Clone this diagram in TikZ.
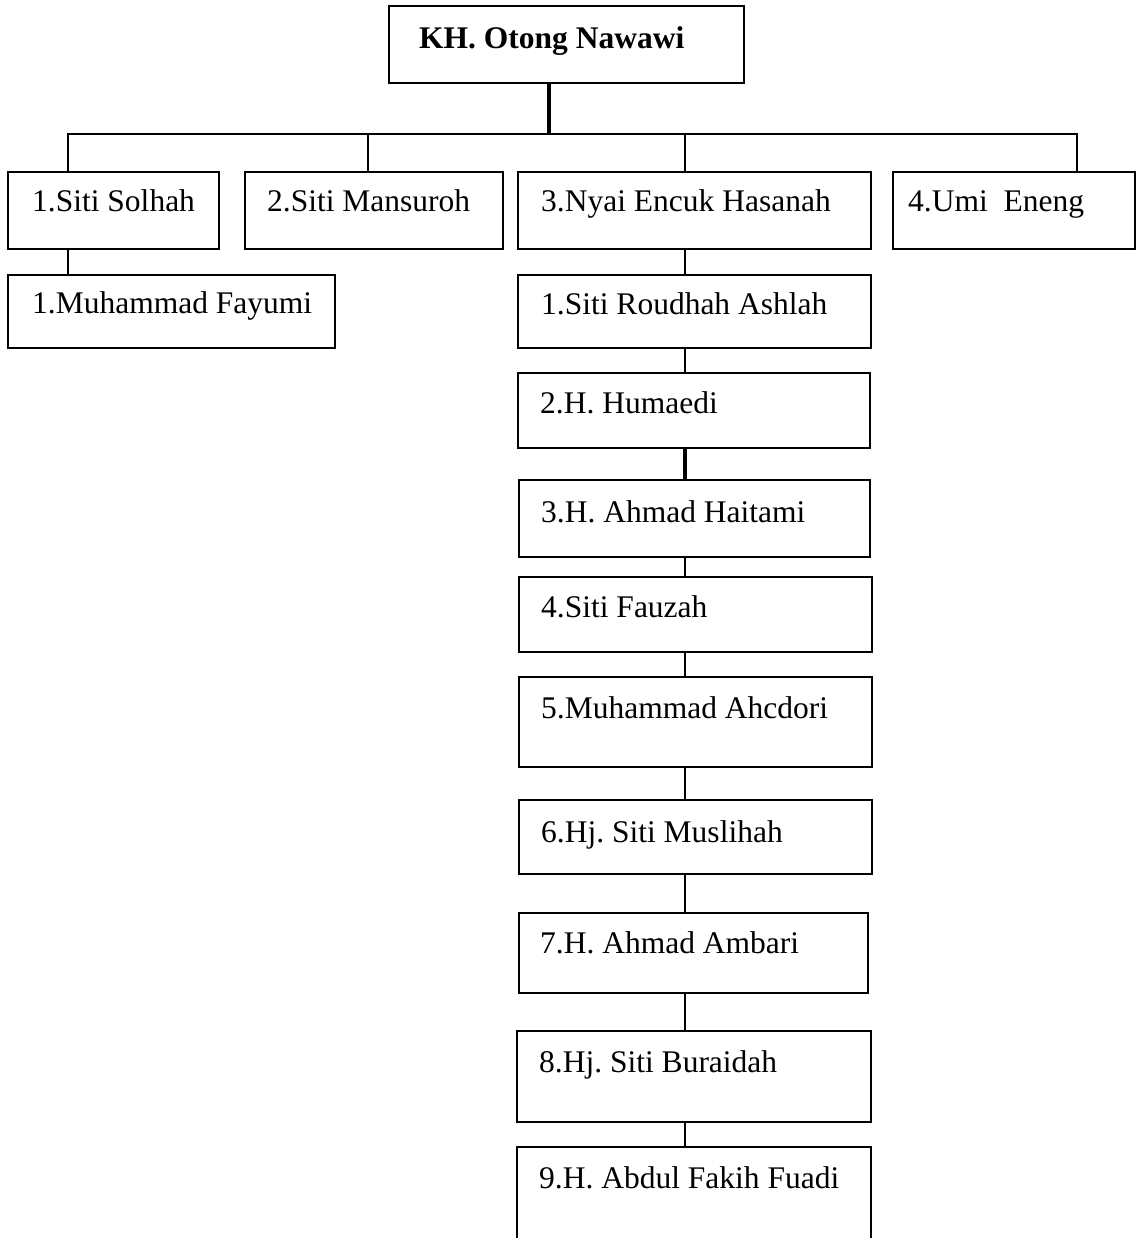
\documentclass[tikz,border=0pt]{standalone}
\usepackage{fontspec}
\setmainfont{Liberation Serif}
\frenchspacing
\begin{document}
\begin{tikzpicture}[x=1pt,y=-1pt,
  box/.style={draw, line width=2.5pt, inner sep=0pt, outer sep=0pt, rectangle},
  txt/.style={anchor=base west, inner sep=0pt, font=\fontsize{31.5}{36}\selectfont},
  link/.style={line width=2.4pt},
  thicklink/.style={line width=3.8pt}]
\useasboundingbox[fill=white] (0,0) rectangle (1137,1238);

% boxes
\node[box, minimum width=355pt, minimum height=77pt] (top) at (566.5,44.5) {};
\node[box, minimum width=211pt, minimum height=77pt] (b1) at (113.5,210.5) {};
\node[box, minimum width=258pt, minimum height=77pt] (b2) at (374,210.5) {};
\node[box, minimum width=353pt, minimum height=77pt] (b3) at (694.5,210.5) {};
\node[box, minimum width=242pt, minimum height=77pt] (b4) at (1014,210.5) {};
\node[box, minimum width=327pt, minimum height=73pt] (f1) at (171.5,311.5) {};
\node[box, minimum width=353pt, minimum height=73pt] (c1) at (694.5,311.5) {};
\node[box, minimum width=352pt, minimum height=75pt] (c2) at (694,410.5) {};
\node[box, minimum width=351pt, minimum height=77pt] (c3) at (694.5,518.5) {};
\node[box, minimum width=353pt, minimum height=75pt] (c4) at (695.5,614.5) {};
\node[box, minimum width=353pt, minimum height=90pt] (c5) at (695.5,722) {};
\node[box, minimum width=353pt, minimum height=74pt] (c6) at (695.5,837) {};
\node[box, minimum width=349pt, minimum height=80pt] (c7) at (693.5,953) {};
\node[box, minimum width=354pt, minimum height=91pt] (c8) at (694,1076.5) {};
\node[box, minimum width=354pt, minimum height=153pt] (c9) at (694,1223.5) {};

% texts
\node[txt, font=\fontsize{31.5}{36}\selectfont\bfseries] (ttop) at (419,49) {KH. Otong Nawawi};
\node[txt] (tb1) at (32,212) {1.Siti Solhah};
\node[txt] (tb2) at (267,212) {2.Siti Mansuroh};
\node[txt] (tb3) at (541,212) {3.Nyai Encuk Hasanah};
\node[txt] (tb4) at (908,212) {4.Umi\ \ Eneng};
\node[txt] (tf1) at (32,313) {1.Muhammad Fayumi};
\node[txt] (tc1) at (541,314) {1.Siti Roudhah Ashlah};
\node[txt] (tc2) at (540,413) {2.H. Humaedi};
\node[txt] (tc3) at (541,522) {3.H. Ahmad Haitami};
\node[txt] (tc4) at (541,617) {4.Siti Fauzah};
\node[txt] (tc5) at (541,718) {5.Muhammad Ahcdori};
\node[txt] (tc6) at (541,842) {6.Hj. Siti Muslihah};
\node[txt] (tc7) at (540,953) {7.H. Ahmad Ambari};
\node[txt] (tc8) at (539,1072) {8.Hj. Siti Buraidah};
\node[txt] (tc9) at (539,1188) {9.H. Abdul Fakih Fuadi};

% connector coordinates
\coordinate (trunk) at (549,134);
\coordinate (d1) at (68,134);
\coordinate (d2) at (368,134);
\coordinate (d3) at (685,134);
\coordinate (d4) at (1077,134);

% connectors
\draw[thicklink] (top.south -| trunk) -- (trunk);
\draw[link, line cap=rect] (d1) -- (d4);
\draw[link] (d1) -- (d1 |- b1.north);
\draw[link] (d2) -- (d2 |- b2.north);
\draw[link] (d3) -- (d3 |- b3.north);
\draw[link] (d4) -- (d4 |- b4.north);
\draw[link] (b1.south -| d1) -- (f1.north -| d1);
\draw[link] (b3.south -| d3) -- (c1.north -| d3);
\draw[link] (c1.south -| d3) -- (c2.north -| d3);
\draw[thicklink] (c2.south -| d3) -- (c3.north -| d3);
\draw[link] (c3.south -| d3) -- (c4.north -| d3);
\draw[link] (c4.south -| d3) -- (c5.north -| d3);
\draw[link] (c5.south -| d3) -- (c6.north -| d3);
\draw[link] (c6.south -| d3) -- (c7.north -| d3);
\draw[link] (c7.south -| d3) -- (c8.north -| d3);
\draw[link] (c8.south -| d3) -- (c9.north -| d3);
\end{tikzpicture}
\end{document}
